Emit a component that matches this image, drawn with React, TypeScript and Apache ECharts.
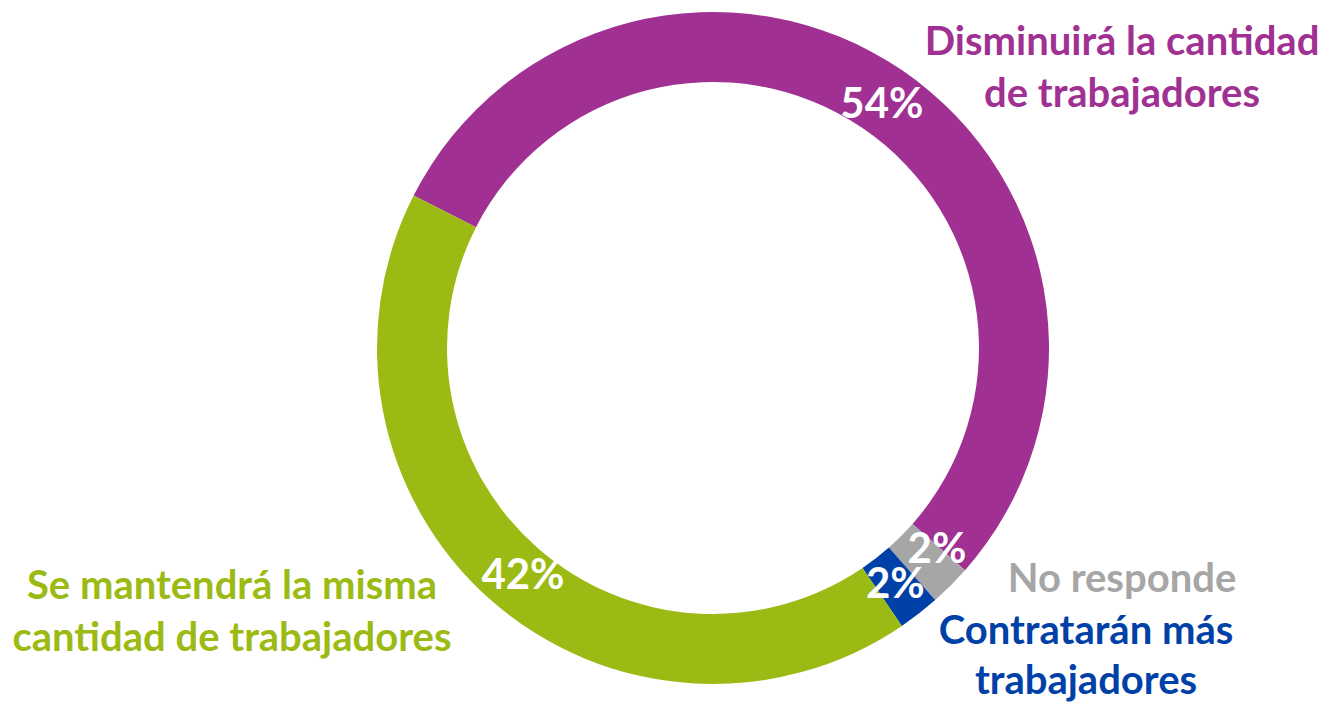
import React, { useEffect, useRef } from "react";
import * as echarts from "echarts";

const categories = [
  "Disminuirá la cantidad de trabajadores",
  "No responde",
  "Contratarán más trabajadores",
  "Se mantendrá la misma cantidad de trabajadores",
];
const values = [54, 2, 2, 42];
const colors = ["#A03192", "#A6A6A6", "#0041A8", "#9BBB14"];
const labelOffsets = [[-2, 5], [9, -16], [-4, -6], [11, -3]];

const FONT = "Lato, 'Open Sans', sans-serif";

export default function App() {
  const ref = useRef<HTMLDivElement>(null);
  useEffect(() => {
    if (!ref.current) return;
    const chart = echarts.init(ref.current, undefined, { renderer: "svg" });
    const labelText = (text: string, x: number, y: number, color: string, lh = 52) => ({
      type: "text",
      x,
      y,
      style: {
        text,
        fill: color,
        font: `bold 40px ${FONT}`,
        textAlign: "center",
        textVerticalAlign: "middle",
        lineHeight: lh,
      },
    });
    chart.setOption({
      animation: false,
      backgroundColor: "#ffffff",
      series: [
        {
          type: "pie",
          center: [713, 348],
          radius: [266, 336],
          startAngle: 153,
          clockwise: true,
          avoidLabelOverlap: false,
          minShowLabelAngle: 0,
          labelLayout: { hideOverlap: false },
          itemStyle: { borderWidth: 0 },
          label: {
            show: true,
            position: "inside",
            formatter: "{c}%",
            color: "#ffffff",
            fontSize: 42,
            fontWeight: "bold",
            fontFamily: FONT,
          },
          labelLine: { show: false },
          data: categories.map((name, i) => ({
            name,
            value: values[i],
            itemStyle: { color: colors[i] },
            label: { offset: labelOffsets[i] },
          })),
        },
      ],
      graphic: [
        labelText("Disminuirá la cantidad\nde trabajadores", 1122, 66, colors[0]),
        labelText("No responde", 1122, 577, colors[1]),
        labelText("Contratarán más\ntrabajadores", 1086, 654, colors[2], 50),
        labelText("Se mantendrá la misma\ncantidad de trabajadores", 232, 610, colors[3]),
      ],
    });
    return () => chart.dispose();
  }, []);
  return (
    <div
      ref={ref}
      style={{ position: "fixed", left: 0, top: 0, width: 1325, height: 704 }}
    />
  );
}
